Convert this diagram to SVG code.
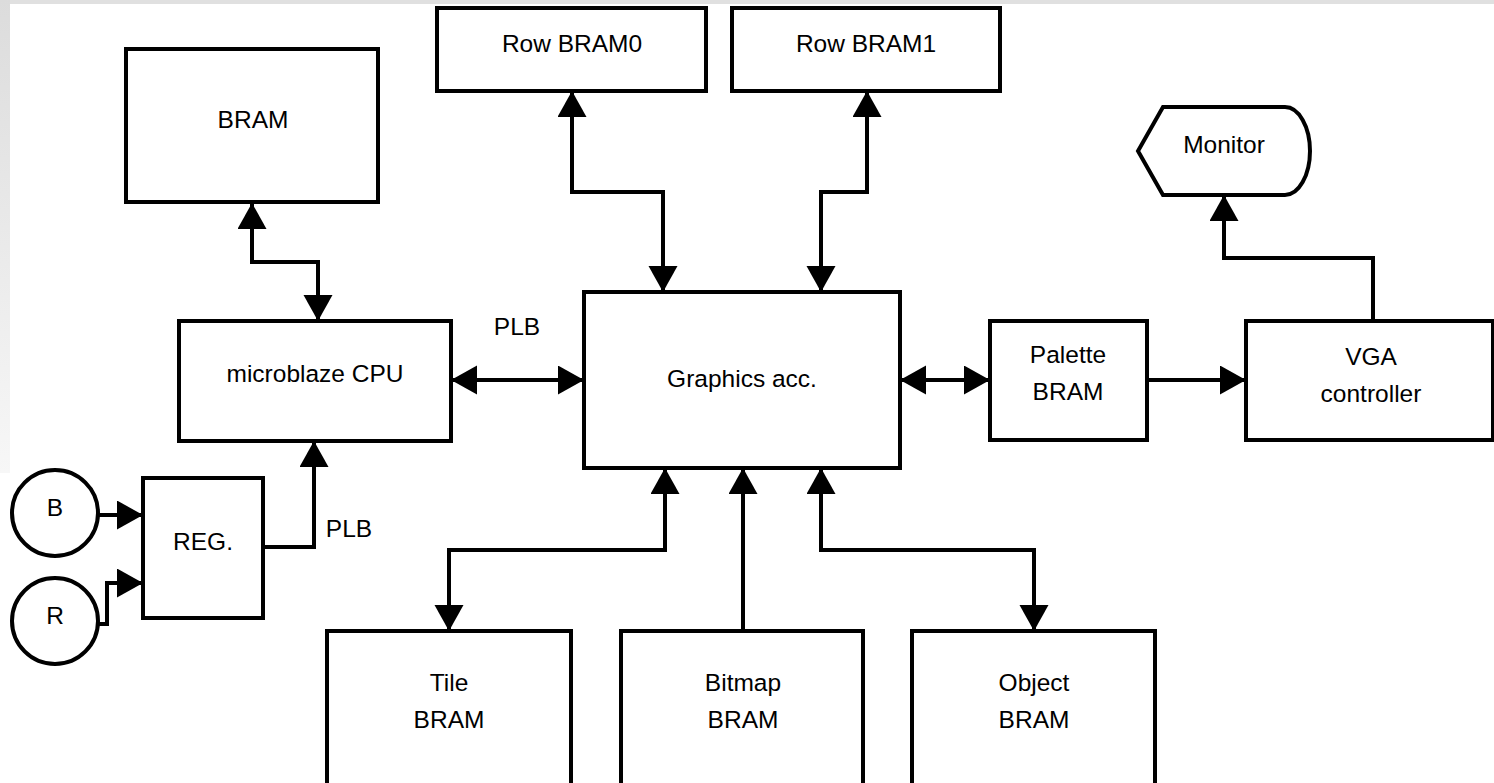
<svg xmlns="http://www.w3.org/2000/svg" width="1494" height="783" viewBox="0 0 1494 783">
<defs>
<linearGradient id="lg" x1="0" y1="0" x2="0" y2="1">
<stop offset="0" stop-color="#dcdcdc"/>
<stop offset="1" stop-color="#f7f7f7"/>
</linearGradient>
<marker id="ah" markerUnits="userSpaceOnUse" markerWidth="28" markerHeight="30" refX="26" refY="14.5" orient="auto-start-reverse" viewBox="0 0 28 30">
<path d="M0,0 L26,14.5 L0,29 Z" fill="#000"/>
</marker>
<style>
.box{fill:#fff;stroke:#000;stroke-width:4}
.t{font-family:"Liberation Sans",Arial,sans-serif;font-size:24.5px;fill:#000;text-anchor:middle}
.c{fill:none;stroke:#000;stroke-width:4}
</style>
</defs>
<rect width="1494" height="783" fill="#fff"/>
<rect x="0" y="0" width="1494" height="4" fill="#e0e0e0"/>
<rect x="0" y="0" width="10" height="473" fill="url(#lg)"/>

<g id="bram"><rect class="box" x="126" y="49" width="252" height="153"/><text class="t" x="253" y="128">BRAM</text></g>
<g id="rowbram0"><rect class="box" x="437" y="8" width="269" height="83"/><text class="t" x="572" y="52">Row BRAM0</text></g>
<g id="rowbram1"><rect class="box" x="732" y="8" width="268" height="83"/><text class="t" x="866" y="52">Row BRAM1</text></g>
<g id="monitor"><path class="box" d="M1163,107 L1285,107 A25,44 0 0 1 1285,195 L1163,195 L1138,151 Z"/><text class="t" x="1224" y="153">Monitor</text></g>
<g id="cpu"><rect class="box" x="179" y="321" width="272" height="120"/><text class="t" x="315" y="382">microblaze CPU</text></g>
<g id="graphics"><rect class="box" x="584" y="292" width="316" height="176"/><text class="t" x="742" y="387">Graphics acc.</text></g>
<g id="palette"><rect class="box" x="990" y="321" width="157" height="119"/><text class="t" x="1068" y="363">Palette</text><text class="t" x="1068" y="400">BRAM</text></g>
<g id="vga"><rect class="box" x="1246" y="321" width="247" height="119"/><text class="t" x="1371" y="365">VGA</text><text class="t" x="1371" y="402">controller</text></g>
<g id="b"><circle class="box" cx="55" cy="513" r="43"/><text class="t" x="55" y="516">B</text></g>
<g id="r"><circle class="box" cx="55" cy="621" r="43"/><text class="t" x="55" y="624">R</text></g>
<g id="reg"><rect class="box" x="143" y="478" width="120" height="140"/><text class="t" x="203" y="550">REG.</text></g>
<g id="tile"><rect class="box" x="327" y="631" width="244" height="160"/><text class="t" x="449" y="691">Tile</text><text class="t" x="449" y="728">BRAM</text></g>
<g id="bitmap"><rect class="box" x="621" y="631" width="242" height="160"/><text class="t" x="743" y="691">Bitmap</text><text class="t" x="743" y="728">BRAM</text></g>
<g id="object"><rect class="box" x="912" y="631" width="243" height="160"/><text class="t" x="1034" y="691">Object</text><text class="t" x="1034" y="728">BRAM</text></g>

<g id="connectors">
<path class="c" d="M252,203 V262 H318 V321" marker-start="url(#ah)" marker-end="url(#ah)"/>
<path class="c" d="M572,91 V192 H663 V292" marker-start="url(#ah)" marker-end="url(#ah)"/>
<path class="c" d="M867,91 V192 H821 V292" marker-start="url(#ah)" marker-end="url(#ah)"/>
<path class="c" d="M451,380 H584" marker-start="url(#ah)" marker-end="url(#ah)"/>
<path class="c" d="M900,380 H990" marker-start="url(#ah)" marker-end="url(#ah)"/>
<path class="c" d="M1147,380 H1246" marker-end="url(#ah)"/>
<path class="c" d="M1373,321 V258 H1224 V195" marker-end="url(#ah)"/>
<path class="c" d="M98,515 H143" marker-end="url(#ah)"/>
<path class="c" d="M98,624 H107 V583 H143" marker-end="url(#ah)"/>
<path class="c" d="M263,547 H314 V441" marker-end="url(#ah)"/>
<path class="c" d="M665,468 V550 H449 V631" marker-start="url(#ah)" marker-end="url(#ah)"/>
<path class="c" d="M743,631 V468" marker-end="url(#ah)"/>
<path class="c" d="M821,468 V550 H1034 V631" marker-start="url(#ah)" marker-end="url(#ah)"/>
<text class="t" x="517" y="335">PLB</text>
<text class="t" x="349" y="537">PLB</text>
</g>
</svg>
